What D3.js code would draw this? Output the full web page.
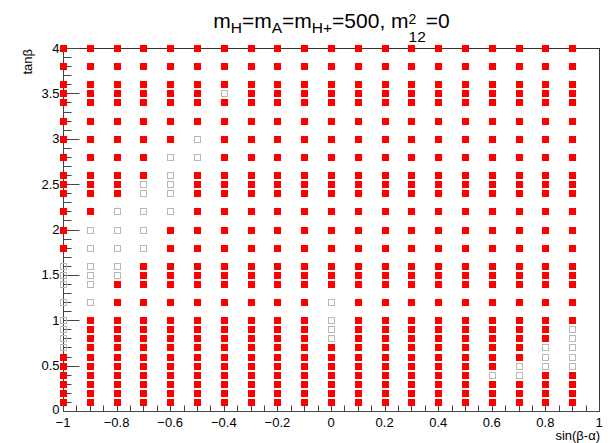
<!DOCTYPE html>
<html>
<head>
<meta charset="utf-8">
<script src="https://cdn.jsdelivr.net/npm/d3@7"></script>
<style>
  html, body { margin: 0; padding: 0; background: #fff; }
  svg { display: block; font-family: "Liberation Sans", Arial, Helvetica, sans-serif; }
</style>
</head>
<body>
<svg id="chart" width="613" height="443"></svg>
<script>
// Scan grid in sin(beta-alpha) and tan(beta)
const sinBetaAlpha = [-1, -0.9, -0.8, -0.7, -0.6, -0.5, -0.4, -0.3, -0.2, -0.1,
                      0, 0.1, 0.2, 0.3, 0.4, 0.5, 0.6, 0.7, 0.8, 0.9];
const tanBeta = [0.1, 0.2, 0.3, 0.4, 0.5, 0.6, 0.7, 0.8, 0.9, 1.0,
                 1.2, 1.4, 1.5, 1.6, 1.8, 2.0, 2.2, 2.4, 2.5, 2.6,
                 2.8, 3.0, 3.2, 3.4, 3.5, 3.6, 3.8, 4.0];

// Points that pass the constraints (open grey markers), as [sin(b-a), tan(b)]
const allowedSin = [-1, -1, -1, -1, -1, -1, -1, -1,
                    -0.9, -0.9, -0.9, -0.9, -0.9, -0.9,
                    -0.8, -0.8, -0.8, -0.8, -0.8,
                    -0.7, -0.7, -0.7, -0.7, -0.7,
                    -0.6, -0.6, -0.6, -0.6, -0.6,
                    -0.5, -0.5,
                    -0.4,
                    0, 0, 0, 0,
                    0.6,
                    0.7, 0.7,
                    0.8, 0.8, 0.8,
                    0.9, 0.9, 0.9, 0.9, 0.9];
const allowedTan = [1.6, 1.5, 1.4, 1.2, 1.0, 0.9, 0.8, 0.7,
                    2.0, 1.8, 1.6, 1.5, 1.4, 1.2,
                    2.2, 2.0, 1.8, 1.6, 1.5,
                    2.5, 2.4, 2.2, 2.0, 1.8,
                    2.8, 2.6, 2.5, 2.4, 2.2,
                    3.0, 2.8,
                    3.5,
                    1.2, 1.0, 0.9, 0.8,
                    0.4,
                    0.5, 0.4,
                    0.7, 0.6, 0.5,
                    0.9, 0.8, 0.7, 0.6, 0.5];

const xTicks = [-1, -0.8, -0.6, -0.4, -0.2, 0, 0.2, 0.4, 0.6, 0.8, 1];
const yTicks = [0, 0.5, 1, 1.5, 2, 2.5, 3, 3.5, 4];

const svg = d3.select("#chart");
const plotL = 63, plotR = 599, plotT = 48, plotB = 411;

const x = d3.scaleLinear().domain([-1, 1]).range([plotL, plotR]);
const y = d3.scaleLinear().domain([0, 4]).range([plotB, plotT]);

const allowedKey = new Set(allowedSin.map((s, i) => s.toFixed(2) + "|" + allowedTan[i].toFixed(2)));
const grid = [];
sinBetaAlpha.forEach(s => tanBeta.forEach(t => {
  grid.push({ s, t, allowed: allowedKey.has(s.toFixed(2) + "|" + t.toFixed(2)) });
}));

// Frame: top and right edges
svg.append("line").attr("x1", plotL).attr("x2", plotR + 0.5)
  .attr("y1", plotT + 0.5).attr("y2", plotT + 0.5).attr("stroke", "#333").attr("stroke-width", 1);
svg.append("line").attr("x1", plotR + 0.5).attr("x2", plotR + 0.5)
  .attr("y1", plotT).attr("y2", plotB + 0.5).attr("stroke", "#333").attr("stroke-width", 1);

// X axis: major every 0.2, minor every 0.05, ticks pointing inward
const xAxisG = svg.append("g").attr("transform", `translate(0,${plotB + 0.5})`);
xAxisG.append("line").attr("x1", plotL).attr("x2", plotR + 0.5).attr("stroke", "#444");
const xMinor = d3.range(-1, 1.0001, 0.05);
xAxisG.selectAll("line.minor").data(xMinor).join("line")
  .attr("class", "minor")
  .attr("x1", d => Math.round(x(d)) + 0.5).attr("x2", d => Math.round(x(d)) + 0.5)
  .attr("y1", 0).attr("y2", -6).attr("stroke", "#444");
xAxisG.selectAll("line.major").data(xTicks).join("line")
  .attr("class", "major")
  .attr("x1", d => Math.round(x(d)) + 0.5).attr("x2", d => Math.round(x(d)) + 0.5)
  .attr("y1", 0).attr("y2", -11).attr("stroke", "#444");
xAxisG.selectAll("text").data(xTicks).join("text")
  .attr("x", d => x(d)).attr("y", 15)
  .attr("text-anchor", "middle").attr("font-size", 13).attr("fill", "#000")
  .text(d => d3.format("")(d));

// Y axis: major every 0.5, minor every 0.1
const yAxisG = svg.append("g").attr("transform", `translate(${plotL + 0.5},0)`);
yAxisG.append("line").attr("y1", plotT).attr("y2", plotB + 0.5).attr("stroke", "#444");
const yMinor = d3.range(0, 4.0001, 0.1);
yAxisG.selectAll("line.minor").data(yMinor).join("line")
  .attr("class", "minor")
  .attr("y1", d => Math.round(y(d)) + 0.5).attr("y2", d => Math.round(y(d)) + 0.5)
  .attr("x1", 0).attr("x2", 8).attr("stroke", "#444");
yAxisG.selectAll("line.major").data(yTicks).join("line")
  .attr("class", "major")
  .attr("y1", d => Math.round(y(d)) + 0.5).attr("y2", d => Math.round(y(d)) + 0.5)
  .attr("x1", 0).attr("x2", 16).attr("stroke", "#444");
yAxisG.selectAll("text").data(yTicks).join("text")
  .attr("x", -4).attr("y", d => y(d) + 4.5 - (d === 0 ? 2 : 0))
  .attr("text-anchor", "end").attr("font-size", 13).attr("fill", "#000")
  .text(d => d3.format("")(d));

// Markers
svg.append("g").selectAll("rect.excl").data(grid.filter(d => !d.allowed)).join("rect")
  .attr("class", "excl")
  .attr("x", d => Math.round(x(d.s)) - 3).attr("y", d => Math.round(y(d.t)) - 3)
  .attr("width", 7).attr("height", 7).attr("fill", "#ff0000");
svg.append("g").selectAll("rect.allow").data(grid.filter(d => d.allowed)).join("rect")
  .attr("class", "allow")
  .attr("x", d => Math.round(x(d.s)) - 2.5).attr("y", d => Math.round(y(d.t)) - 2.5)
  .attr("width", 6).attr("height", 6).attr("fill", "none")
  .attr("stroke", "#b8b8b8").attr("stroke-width", 1);

// Title with sub/superscripts; the "2" and "12" share one horizontal slot
const title = svg.append("text").attr("x", 0).attr("y", 28)
  .attr("text-anchor", "start").attr("font-size", 21).attr("fill", "#000");
title.append("tspan").text("m");
title.append("tspan").attr("font-size", 15.5).attr("dy", 5).text("H");
title.append("tspan").attr("dy", -5).text("=m");
title.append("tspan").attr("font-size", 15.5).attr("dy", 5).text("A");
title.append("tspan").attr("dy", -5).text("=m");
title.append("tspan").attr("font-size", 15.5).attr("dy", 5).text("H+");
title.append("tspan").attr("dy", -5).text("=500, m");
const stackX = title.node().getComputedTextLength();
title.append("tspan").attr("font-size", 14).attr("dy", -4).text("2");
title.append("tspan").attr("font-size", 15.5).attr("x", stackX).attr("dy", 17.7).text("12");
title.append("tspan").attr("dy", -13.7).text("=0");
const titleW = title.node().getComputedTextLength() - title.select("tspan:nth-child(8)").node().getComputedTextLength();
title.attr("transform", `translate(${331.5 - titleW / 2},0)`);

// Axis titles
svg.append("text").attr("transform", `translate(32,${plotT + 1}) rotate(-90)`)
  .attr("text-anchor", "end").attr("font-size", 13).attr("fill", "#000").text("tanβ");
svg.append("text").attr("x", plotR + 1).attr("y", 439.5)
  .attr("text-anchor", "end").attr("font-size", 13).attr("fill", "#000").text("sin(β-α)");
</script>
</body>
</html>
